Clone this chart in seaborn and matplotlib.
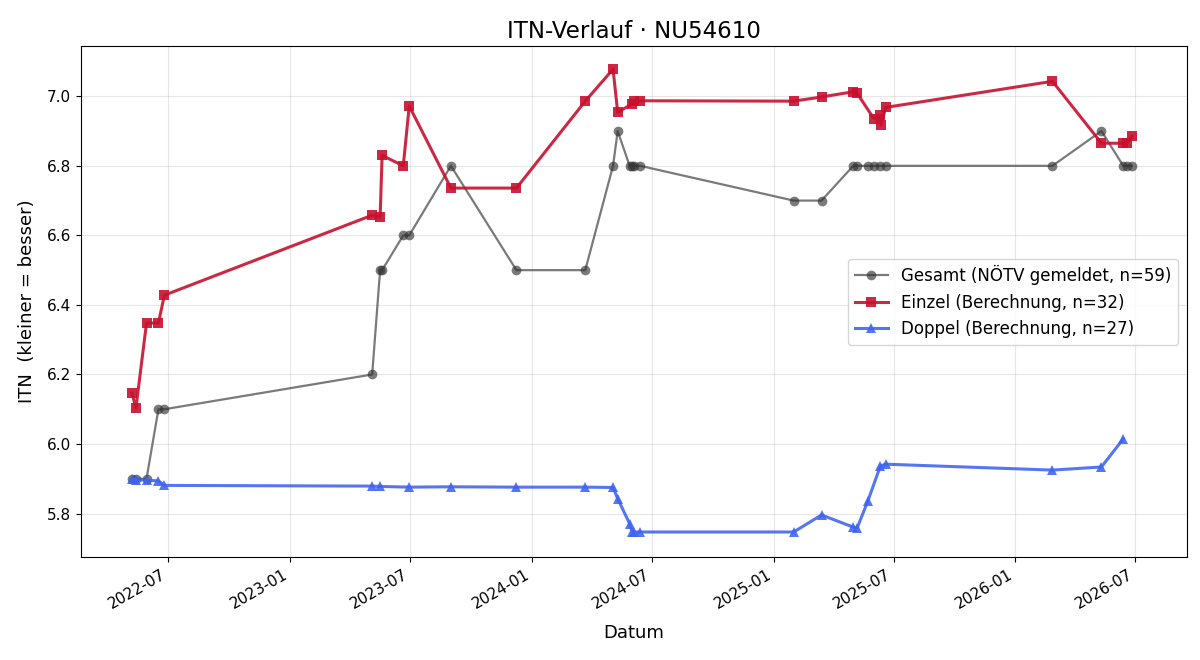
import matplotlib
matplotlib.use("Agg")
import matplotlib.pyplot as plt
import matplotlib.dates as mdates
import seaborn as sns
import pandas as pd

gesamt_dates = ["2022-05-07", "2022-05-13", "2022-05-29", "2022-06-16", "2022-06-25",
                "2023-05-05", "2023-05-17", "2023-05-20", "2023-06-21", "2023-06-30",
                "2023-09-01", "2023-12-09", "2024-03-22", "2024-05-03", "2024-05-10",
                "2024-05-28", "2024-06-01", "2024-06-04", "2024-06-13", "2025-01-31",
                "2025-03-14", "2025-05-01", "2025-05-07", "2025-05-23", "2025-06-01",
                "2025-06-11", "2025-06-19", "2026-02-26", "2026-05-11", "2026-06-13",
                "2026-06-19", "2026-06-26"]
gesamt_itn = [5.9, 5.9, 5.9, 6.1, 6.1,
              6.2, 6.5, 6.5, 6.6, 6.6,
              6.8, 6.5, 6.5, 6.8, 6.9,
              6.8, 6.8, 6.8, 6.8, 6.7,
              6.7, 6.8, 6.8, 6.8, 6.8,
              6.8, 6.8, 6.8, 6.9, 6.8,
              6.8, 6.8]

einzel_dates = ["2022-05-07", "2022-05-13", "2022-05-29", "2022-06-16", "2022-06-25",
                "2023-05-05", "2023-05-17", "2023-05-20", "2023-06-21", "2023-06-30",
                "2023-09-01", "2023-12-09", "2024-03-22", "2024-05-03", "2024-05-10",
                "2024-06-01", "2024-06-04", "2024-06-13", "2025-01-31", "2025-03-14",
                "2025-05-01", "2025-05-07", "2025-06-01", "2025-06-11", "2025-06-12",
                "2025-06-19", "2026-02-26", "2026-05-11", "2026-06-13", "2026-06-19",
                "2026-06-26"]
einzel_itn = [6.147, 6.103, 6.348, 6.348, 6.428,
              6.658, 6.652, 6.830, 6.800, 6.972,
              6.736, 6.736, 6.986, 7.078, 6.954,
              6.978, 6.986, 6.987, 6.986, 6.998,
              7.013, 7.008, 6.936, 6.945, 6.918,
              6.968, 7.043, 6.865, 6.865, 6.866,
              6.885]

doppel_dates = ["2022-05-07", "2022-05-13", "2022-05-29", "2022-06-16", "2022-06-25",
                "2023-05-05", "2023-05-17", "2023-06-30", "2023-09-01", "2023-12-09",
                "2024-03-22", "2024-05-03", "2024-05-10", "2024-05-28", "2024-06-01",
                "2024-06-04", "2024-06-13", "2025-01-31", "2025-03-14", "2025-05-01",
                "2025-05-07", "2025-05-23", "2025-06-11", "2025-06-19", "2026-02-26",
                "2026-05-11", "2026-06-13"]
doppel_itn = [5.898, 5.897, 5.896, 5.894, 5.881,
              5.879, 5.878, 5.876, 5.877, 5.876,
              5.876, 5.875, 5.843, 5.771, 5.748,
              5.747, 5.747, 5.747, 5.796, 5.761,
              5.759, 5.836, 5.937, 5.942, 5.925,
              5.934, 6.015]

labels = ["Gesamt (NÖTV gemeldet, n=59)",
          "Einzel (Berechnung, n=32)",
          "Doppel (Berechnung, n=27)"]

df_g = pd.DataFrame({"Datum": pd.to_datetime(gesamt_dates), "ITN": gesamt_itn})
df_e = pd.DataFrame({"Datum": pd.to_datetime(einzel_dates), "ITN": einzel_itn})
df_d = pd.DataFrame({"Datum": pd.to_datetime(doppel_dates), "ITN": doppel_itn})

fig, ax = plt.subplots(figsize=(12, 6.6), dpi=100)

sns.lineplot(data=df_g, x="Datum", y="ITN", ax=ax, color="#333333", alpha=0.65,
             marker="o", markersize=7, linewidth=1.6, label=labels[0], sort=False,
             markeredgewidth=0)
sns.lineplot(data=df_e, x="Datum", y="ITN", ax=ax, color="#C8102E", alpha=0.9,
             marker="s", markersize=7.5, linewidth=2.2, label=labels[1], sort=False,
             markeredgewidth=0)
sns.lineplot(data=df_d, x="Datum", y="ITN", ax=ax, color="#3F63F0", alpha=0.88,
             marker="^", markersize=7.5, linewidth=2.2, label=labels[2], sort=False,
             markeredgewidth=0)

ax.set_title("ITN-Verlauf · NU54610", fontsize=16.5)
ax.set_xlabel("Datum", fontsize=13, labelpad=9)
ax.set_ylabel("ITN  (kleiner = besser)", fontsize=13, labelpad=8)
ax.grid(True, alpha=0.3)
ax.set_xlim(pd.Timestamp("2022-02-19"), pd.Timestamp("2026-09-17"))
ax.set_ylim(5.675, 7.144)
ax.xaxis.set_major_locator(mdates.MonthLocator(bymonth=[1, 7]))
ax.xaxis.set_major_formatter(mdates.DateFormatter("%Y-%m"))
ax.tick_params(labelsize=11)
fig.autofmt_xdate()
ax.legend(loc="center right", fontsize=12)

fig.subplots_adjust(left=0.0675, right=0.989, top=0.930, bottom=0.156)
fig.savefig("out.png", dpi=100)
